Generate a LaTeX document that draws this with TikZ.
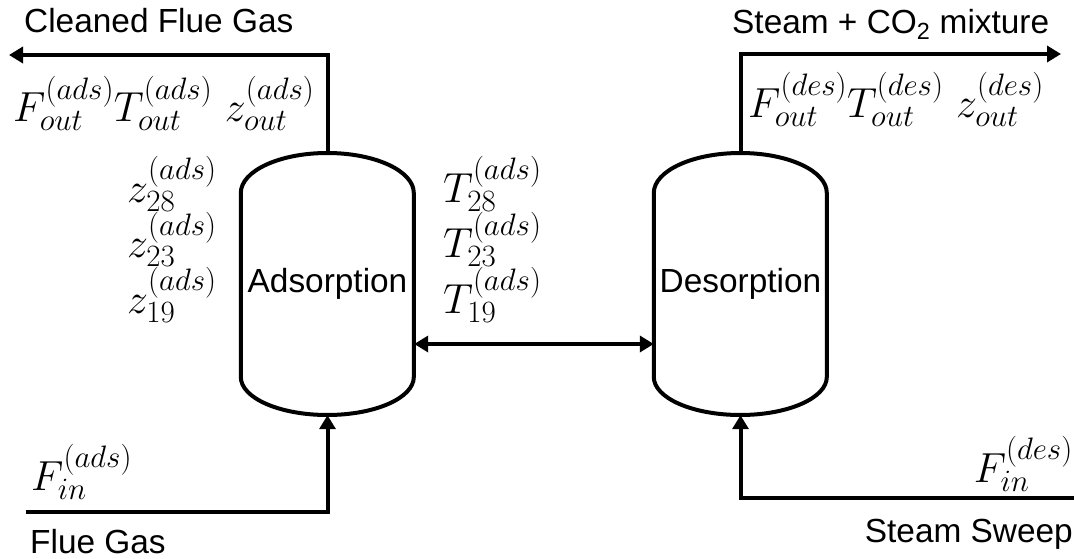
\RequirePackage{fix-cm}
\documentclass[tikz,border=0pt]{standalone}
\usepackage{amsmath}
\usepackage{fontspec}
\newfontfamily\labelsans{Liberation Sans}
\DeclareMathSizes{42}{42}{31}{24}
\usepackage{tikz}
\usetikzlibrary{arrows.meta}
\tikzset{
  pipe/.style={line width=4pt},
  flow/.style={pipe, -{Triangle[length=14pt,width=16pt]}},
  vesselbox/.style={minimum width=173pt, minimum height=262pt, inner sep=0pt, font=\labelsans\fontsize{33.4}{40}\selectfont},
  streamtext/.style={inner sep=0pt, font=\labelsans\fontsize{33.4}{40}\selectfont},
  mathlabel/.style={inner sep=0pt, align=left, font=\fontsize{42}{55.5}\selectfont}
}
\newcommand{\vessel}[3] {\node at (#1,274) (#2) [vesselbox] {#3}; \draw [pipe] (#2.west) ++(0,91) arc [start angle=180, end angle=0, x radius=86.5, y radius=40] -- ++(0,-184) arc [start angle=0, end angle=-180, x radius=86.5, y radius=38] -- cycle;}
\newcommand{\streamlabel}[4] {\node at (#1) (#2) [mathlabel, anchor=#3] {#4};}
\newcommand{\streamname}[4] {\node at (#1) (#2) [streamtext, anchor=#3] {#4};}

\begin{document}
\begin{tikzpicture}[x=1pt, y=1pt]
\useasboundingbox (0,0) rectangle (1074,558);
\vessel {327.5} {ads} {Adsorption};
\vessel {740.5} {des} {Desorption};

\coordinate (cleanout) at (9,503);
\coordinate (fluein) at (26,46);
\coordinate (mixout) at (1061,504);
\coordinate (sweepin) at (1074,60);

\draw [flow] (ads.north) |- (cleanout);
\draw [flow] (fluein) -| (ads.south);
\draw [flow] (des.north) |- (mixout);
\draw [flow] (sweepin) -| (des.south);
\draw [pipe, {Triangle[length=14pt,width=16pt]}-{Triangle[length=14pt,width=16pt]}] ([yshift=-60pt]ads.east) -- ([yshift=-60pt]des.west);

\streamname {24,525} {cleaned} {base west} {Cleaned Flue Gas};
\streamname {30,5} {fluegas} {base west} {Flue Gas};
\streamname {732,524} {mixture} {base west} {Steam + CO\textsubscript{2} mixture};
\streamname {1073,16} {sweep} {base east} {Steam Sweep};

\streamlabel {13,436} {adsout} {base west} {$F^{(ads)}_{out}T^{(ads)}_{out}\ z^{(ads)}_{out}$};
\streamlabel {748,440} {desout} {base west} {$F^{(des)}_{out}T^{(des)}_{out}\ z^{(des)}_{out}$};
\streamlabel {31,68} {adsin} {base west} {$F^{(ads)}_{in}$};
\streamlabel {1073,76} {desin} {base east} {$F^{(des)}_{in}$};

% last line sits on the anchor
\streamlabel {127,245} {zads} {base west} {$z^{(ads)}_{28}$\\ $z^{(ads)}_{23}$\\ $z^{(ads)}_{19}$};
\streamlabel {443,245} {Tads} {base west} {$T^{(ads)}_{28}$\\ $T^{(ads)}_{23}$\\ $T^{(ads)}_{19}$};
\end{tikzpicture}
\end{document}
